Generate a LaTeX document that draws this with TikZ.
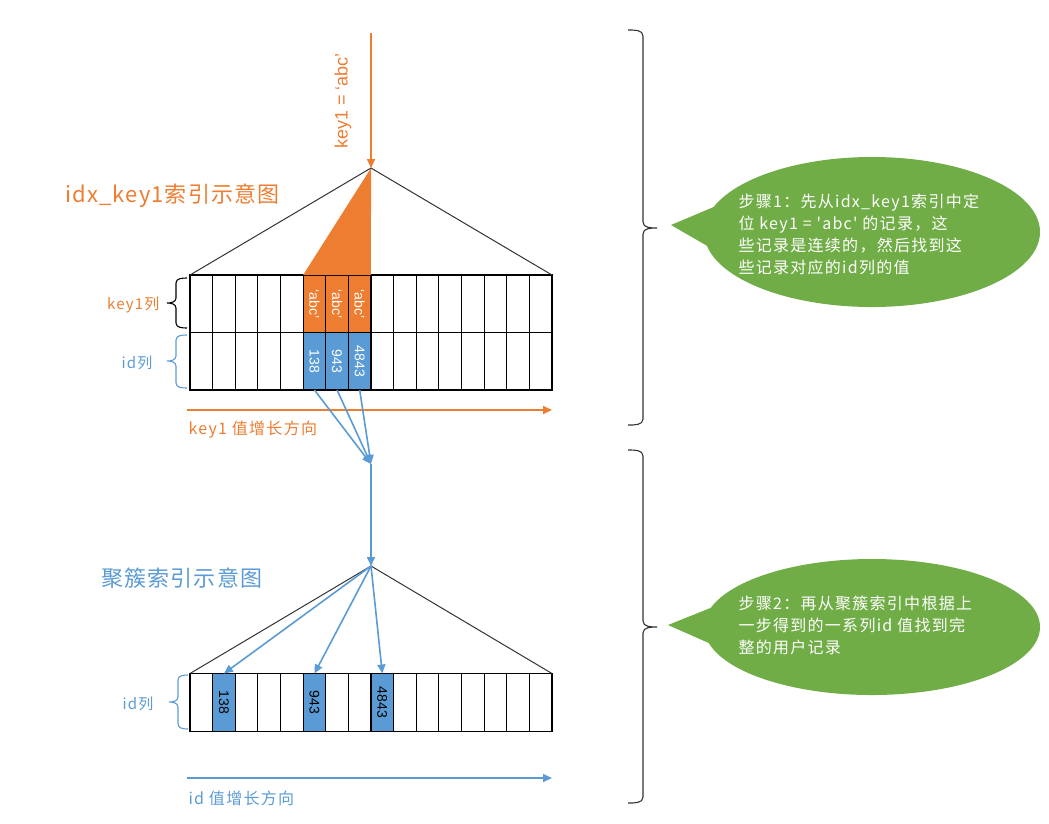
\documentclass[tikz,border=0pt]{standalone}
\usepackage{fontspec}
\setmainfont{Liberation Sans}
\newfontfamily\cjk{Noto Sans CJK SC}[LetterSpace=5]
\newfontfamily\cjkw{Noto Sans CJK SC}[LetterSpace=8]
\usetikzlibrary{positioning,arrows.meta,shapes.callouts}
\definecolor{ora}{HTML}{ED7D31}
\definecolor{blu}{HTML}{5B9BD5}
\definecolor{grn}{HTML}{70AD47}

\begin{document}
\begin{tikzpicture}
    [
    x=1pt, y=-1pt,
    cell/.style={draw, line width=1.1pt, minimum width=22.6pt, minimum height=57.5pt, inner sep=0pt, outer sep=0pt},
    keycell/.style={cell, fill=ora, text=white, font=\fontsize{14}{14}\selectfont},
    idcell/.style={cell, fill=blu, text=white, font=\fontsize{14}{14}\selectfont},
    hitcell/.style={cell, fill=blu, font=\fontsize{14}{14}\selectfont},
    tree/.style={draw=black!80, line width=1pt},
    oarr/.style={draw=ora, line width=1.6pt, -{Triangle[width=8pt,length=9pt]}},
    barr/.style={draw=blu, line width=1.6pt, -{Triangle[width=8pt,length=9pt]}},
    lbrace/.style={draw, line width=1.1pt},
    rbrace/.style={draw=black!80, line width=1.1pt},
    bubble/.style={ellipse callout, fill=grn, minimum width=336pt, minimum height=150pt, callout pointer arc=30},
    note/.style={text=white, align=left, anchor=west, font=\cjkw\fontsize{16}{22}\selectfont},
    clabel/.style={anchor=east, font=\cjkw\fontsize{15}{15}\selectfont},
    ]
    \useasboundingbox (0,0) rectangle (1049,823);

    % idx_key1 index
    \coordinate (src) at (371,33);
    \coordinate (top1) at (371,168);
    \node [text=ora, rotate=90, font=\fontsize{18}{18}\selectfont] (cond) at (343,101) {key1 = ‘abc’};
    \node [text=ora, anchor=west, font=\cjk\fontsize{22}{22}\selectfont] (title1) at (62,196) {idx\_key1索引示意图};
    \foreach \i in {0,...,4,8,9,...,15} {
        \node [cell] (k\i) at ({190+22.625*(\i+0.5)},303.75) {};
        \node [cell] (i\i) at ({190+22.625*(\i+0.5)},361.25) {};
    }
    \foreach \i in {5,6,7}
        \node [keycell] (k\i) at ({190+22.625*(\i+0.5)},303.75) {\rotatebox{-90}{‘abc’}};
    \foreach \i/\v in {5/138,6/943,7/4843}
        \node [idcell] (i\i) at ({190+22.625*(\i+0.5)},361.25) {\rotatebox{-90}{\v}};
    \fill [ora] (top1) -- (k5.north west) -- (k7.north east) -- cycle;
    \draw [tree] (k0.north west) -- (top1) -- (k15.north east);
    \draw [oarr] (src) -- (top1);
    % row labels
    \node [clabel, text=ora] (keylbl) at (163,305) {key1列};
    \node [clabel, text=blu] (idlbl) at (156,363) {id列};
    \draw [lbrace] (187,278) to[out=180,in=90] (176,283) -- (176,298) to[out=-90,in=0] (167,303)
        to[out=0,in=90] (176,308) -- (176,323) to[out=-90,in=180] (187,328);
    \draw [lbrace, blu] (187,335) to[out=180,in=90] (176,340) -- (176,356) to[out=-90,in=0] (167,361)
        to[out=0,in=90] (176,366) -- (176,383) to[out=-90,in=180] (187,388);
    % key1 direction
    \coordinate (d1a) at (187,410);
    \coordinate (d1b) at (552,410);
    \draw [oarr] (d1a) -- (d1b);
    \node [text=ora, anchor=west, font=\cjkw\fontsize{16}{16}\selectfont] (d1lbl) at (185,430) {key1 值增长方向};

    % from id values to clustered index
    \coordinate (meet) at (371,464);
    \coordinate (top2) at (371,566);
    \foreach \i in {5,6,7}
        \draw [barr] (i\i.south) -- (meet);
    \draw [barr] (meet) -- (top2);

    % clustered index
    \node [text=blu, anchor=west, font=\cjk\fontsize{22}{22}\selectfont] (title2) at (98,578) {聚簇索引示意图};
    \foreach \i in {0,2,3,4,6,7,9,10,...,15}
        \node [cell, minimum height=58pt] (c\i) at ({190+22.625*(\i+0.5)},702.5) {};
    \foreach \i/\v in {1/138,5/943,8/4843}
        \node [hitcell, minimum height=58pt] (c\i) at ({190+22.625*(\i+0.5)},702.5) {\rotatebox{-90}{\v}};
    \draw [tree] (c0.north west) -- (top2) -- (c15.north east);
    \foreach \i in {1,5,8}
        \draw [barr] (top2) -- (c\i.north);
    \node [clabel, text=blu] (idlbl2) at (157,704) {id列};
    \draw [lbrace, blu] (188,675) to[out=180,in=90] (178,680) -- (178,697) to[out=-90,in=0] (169,702)
        to[out=0,in=90] (178,707) -- (178,724) to[out=-90,in=180] (188,729);
    % id direction
    \coordinate (d2a) at (187,778);
    \coordinate (d2b) at (552,778);
    \draw [barr] (d2a) -- (d2b);
    \node [text=blu, anchor=west, font=\cjkw\fontsize{16}{16}\selectfont] (d2lbl) at (185,798) {id 值增长方向};

    % steps
    \draw [rbrace] (628,30) to[out=0,in=90] (643,36) -- (643,222) to[out=-90,in=180] (657,228)
        to[out=180,in=90] (643,234) -- (643,419) to[out=-90,in=0] (628,425);
    \draw [rbrace] (628,450) to[out=0,in=90] (643,456) -- (643,621) to[out=-90,in=180] (657,627)
        to[out=180,in=90] (643,633) -- (643,797) to[out=-90,in=0] (628,803);
    \node [bubble, callout absolute pointer={(671,225)}] (step1) at (872,232) {};
    \node [note] (step1txt) at (735,234) {步骤1：先从idx\_key1索引中定\\位 key1 = 'abc' 的记录，这\\些记录是连续的，然后找到这\\些记录对应的id列的值};
    \node [bubble, minimum height=136pt, callout absolute pointer={(668,625)}] (step2) at (872,627) {};
    \node [note] (step2txt) at (735,625) {步骤2：再从聚簇索引中根据上\\一步得到的一系列id 值找到完\\整的用户记录};
\end{tikzpicture}
\end{document}
